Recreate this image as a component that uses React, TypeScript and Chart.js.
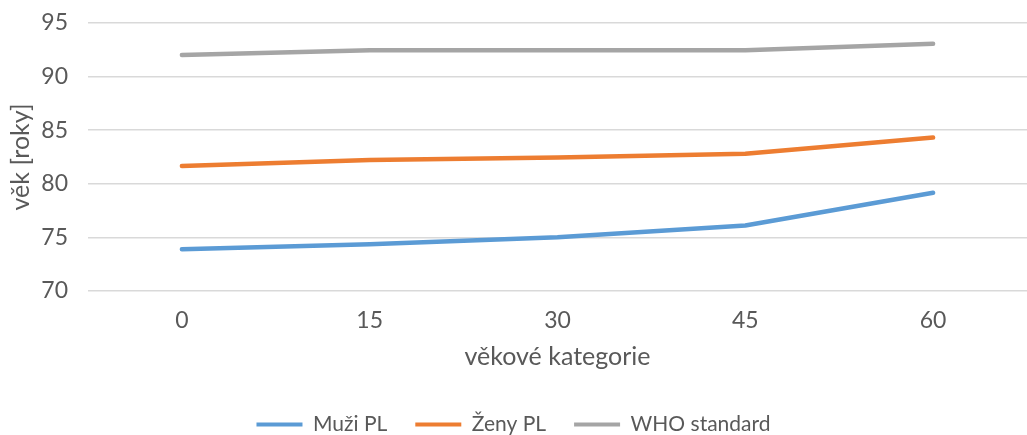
import React, { useEffect, useRef } from "react";
import { Chart, registerables } from "chart.js";

Chart.register(...registerables);

const categories = ["0", "15", "30", "45", "60"];
const muziPL = [73.9, 74.35, 75.0, 76.1, 79.15];
const zenyPL = [81.65, 82.2, 82.45, 82.8, 84.3];
const whoStandard = [92.0, 92.45, 92.45, 92.45, 93.05];
const yTicks = [70, 75, 80, 85, 90, 95];

const FONT = 'Lato, "Open Sans", sans-serif';
const TEXT = "#595959";

export default function App() {
  const ref = useRef<HTMLCanvasElement | null>(null);
  useEffect(() => {
    document.body.style.margin = "0";
    const ctx = ref.current!;
    const chart = new Chart(ctx, {
      type: "line",
      data: {
        labels: categories,
        datasets: [
          { label: "Muži PL", data: muziPL, borderColor: "#5B9BD5", backgroundColor: "#5B9BD5" },
          { label: "Ženy PL", data: zenyPL, borderColor: "#ED7D31", backgroundColor: "#ED7D31" },
          { label: "WHO standard", data: whoStandard, borderColor: "#A5A5A5", backgroundColor: "#A5A5A5" },
        ].map((d) => ({
          ...d,
          borderWidth: 4.5,
          pointRadius: 0,
          borderCapStyle: "round" as const,
          borderJoinStyle: "round" as const,
          tension: 0,
          fill: false,
        })),
      },
      options: {
        animation: false,
        responsive: false,
        maintainAspectRatio: false,
        layout: { padding: { top: 0, right: 0, left: 0, bottom: 12 } },
        plugins: {
          tooltip: { enabled: false },
          legend: {
            position: "bottom",
            labels: {
              font: { family: FONT, size: 21 },
              color: TEXT,
              boxWidth: 46,
              boxHeight: 4,
              padding: 28,
              generateLabels: (c: any) =>
                c.data.datasets.map((ds: any, i: number) => ({
                  text: ds.label,
                  fillStyle: ds.borderColor,
                  strokeStyle: ds.borderColor,
                  lineWidth: 0,
                  fontColor: TEXT,
                  hidden: false,
                  datasetIndex: i,
                })),
            },
          },
        },
        scales: {
          x: {
            offset: true,
            grid: { display: false, drawTicks: false },
            border: { display: false },
            ticks: { font: { family: FONT, size: 23 }, color: TEXT, padding: 16 },
            title: {
              display: true,
              text: "věkové kategorie",
              font: { family: FONT, size: 25 },
              color: TEXT,
              padding: { top: 8, bottom: 14 },
            },
            afterFit: (s: any) => {
              s.height = 95;
            },
          },
          y: {
            min: 70,
            max: 95,
            afterBuildTicks: (s: any) => {
              s.ticks = yTicks.map((v) => ({ value: v }));
            },
            grid: { color: "#D9D9D9", lineWidth: 1.5, drawTicks: false },
            border: { display: false },
            ticks: { font: { family: FONT, size: 23 }, color: TEXT, padding: 20 },
            title: {
              display: true,
              text: "věk [roky]",
              font: { family: FONT, size: 25 },
              color: TEXT,
              padding: { top: 6, bottom: 6 },
            },
            afterFit: (s: any) => {
              s.width = 88;
            },
          },
        },
      },
    });
    return () => chart.destroy();
  }, []);
  return (
    <div style={{ width: 1027, height: 435, overflow: "hidden", position: "relative" }}>
      <canvas
        ref={ref}
        width={1027}
        height={468}
        style={{ display: "block", position: "absolute", left: 0, top: -11 }}
      />
    </div>
  );
}
